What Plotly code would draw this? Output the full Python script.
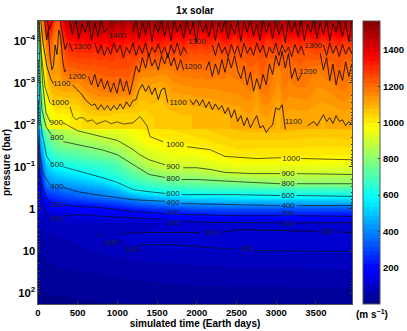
import numpy as np
import plotly.graph_objects as go

# all pressures below are log10(bar)

# heatmap, upper atmosphere (lots of time columns, it is noisy up there)
t_upper = [0, 20, 40, 70, 100, 130, 160, 190, 220, 250, 280, 310, 350, 400, 450,
           500, 570, 640, 710, 780, 850, 920, 990, 1060, 1130, 1200, 1270, 1340, 1410, 1480,
           1550, 1620, 1690, 1760, 1830, 1900, 1970, 2040, 2110, 2180, 2250, 2320, 2390, 2460, 2530,
           2600, 2670, 2740, 2810, 2880, 2950, 3020, 3090, 3160, 3230, 3300, 3370, 3440, 3510, 3580,
           3650, 3720, 3790, 3860, 3955]
p_upper = [-4.47, -4.2, -4.0, -3.7, -3.3, -2.8, -2.2]
z_m447 = [800, 1000, 1130, 1250, 1350, 1400, 1380, 1300, 1250, 1220, 1300, 1400, 1470, 1500, 1480,
          1520, 1480, 1540, 1490, 1530, 1500, 1550, 1490, 1530, 1480, 1520, 1500, 1540, 1490, 1520,
          1550, 1480, 1530, 1500, 1540, 1490, 1520, 1480, 1540, 1510, 1490, 1530, 1550, 1490, 1520,
          1480, 1530, 1510, 1550, 1490, 1520, 1540, 1480, 1530, 1500, 1550, 1490, 1520, 1540, 1480,
          1530, 1510, 1550, 1490, 1520]
z_m42 = [750, 960, 1090, 1200, 1280, 1320, 1300, 1230, 1190, 1180, 1240, 1320, 1380, 1410, 1400,
         1430, 1400, 1440, 1420, 1440, 1420, 1450, 1410, 1440, 1400, 1430, 1410, 1430, 1390, 1420,
         1430, 1390, 1410, 1390, 1420, 1380, 1400, 1370, 1410, 1390, 1370, 1400, 1420, 1370, 1390,
         1370, 1400, 1380, 1420, 1370, 1390, 1400, 1360, 1400, 1380, 1410, 1370, 1390, 1410, 1360,
         1400, 1380, 1410, 1370, 1390]
z_m40 = [700, 920, 1050, 1110, 1190, 1230, 1220, 1180, 1160, 1150, 1200, 1270, 1320, 1340, 1340,
         1360, 1340, 1370, 1350, 1370, 1350, 1380, 1340, 1360, 1330, 1350, 1340, 1350, 1320, 1340,
         1340, 1310, 1330, 1310, 1340, 1300, 1320, 1300, 1320, 1310, 1290, 1320, 1330, 1290, 1310,
         1290, 1320, 1300, 1330, 1290, 1310, 1320, 1290, 1310, 1300, 1320, 1290, 1310, 1320, 1290,
         1310, 1300, 1320, 1290, 1310]
z_m37 = [640, 850, 970, 1050, 1130, 1180, 1180, 1160, 1150, 1140, 1180, 1220, 1260, 1280, 1280,
         1290, 1280, 1300, 1280, 1300, 1280, 1300, 1270, 1290, 1270, 1280, 1270, 1270, 1250, 1260,
         1260, 1240, 1260, 1240, 1260, 1240, 1250, 1240, 1250, 1240, 1230, 1250, 1250, 1220, 1240,
         1230, 1250, 1240, 1260, 1230, 1240, 1250, 1230, 1240, 1230, 1250, 1230, 1240, 1250, 1230,
         1240, 1230, 1250, 1230, 1240]
z_m33 = [580, 780, 890, 990, 1060, 1110, 1130, 1130, 1130, 1125, 1150, 1180, 1200, 1210, 1210,
         1215, 1218, 1220, 1225, 1230, 1235, 1240, 1240, 1240, 1240, 1220, 1176, 1170, 1167, 1165,
         1160, 1160, 1170, 1180, 1189, 1190, 1195, 1190, 1195, 1192, 1185, 1190, 1175, 1180, 1190,
         1200, 1215, 1195, 1225, 1200, 1175, 1160, 1190, 1180, 1200, 1205, 1190, 1180, 1170, 1180,
         1195, 1205, 1215, 1195, 1180]
z_m28 = [530, 700, 800, 900, 1000, 1040, 1075, 1090, 1090, 1095, 1095, 1100, 1100, 1100, 1100,
         1100, 1130, 1148, 1160, 1170, 1175, 1176, 1175, 1170, 1170, 1140, 1090, 1095, 1103, 1090,
         1080, 1100, 1125, 1125, 1130, 1130, 1135, 1135, 1138, 1138, 1142, 1145, 1148, 1150, 1150,
         1160, 1168, 1130, 1175, 1180, 1160, 1125, 1170, 1155, 1160, 1160, 1165, 1150, 1140, 1140,
         1145, 1150, 1165, 1170, 1150]
z_m22 = [500, 620, 700, 830, 890, 930, 950, 975, 985, 985, 985, 985, 990, 1000, 1000,
         1005, 1030, 1040, 1045, 1045, 1045, 1040, 1030, 1030, 1030, 1035, 1040, 1030, 1045, 1050,
         1055, 1060, 1060, 1065, 1070, 1070, 1075, 1075, 1075, 1080, 1085, 1090, 1095, 1100, 1100,
         1110, 1115, 1100, 1115, 1120, 1105, 1090, 1115, 1105, 1105, 1110, 1110, 1105, 1100, 1095,
         1100, 1100, 1105, 1110, 1100]
z_upper = [z_m447, z_m42, z_m40, z_m37, z_m33, z_m28, z_m22]

# heatmap, lower atmosphere
t_lower = [0, 20, 50, 100, 200, 300, 500, 800, 1000, 1200, 1400, 1600, 2000, 2500, 3000, 3500, 3955]
p_lower = [-2.2, -1.9, -1.6, -1.3, -1.05, -0.85, -0.62, -0.45, -0.3, -0.1, 0.03, 0.17, 0.33, 0.5, 0.7, 1.0, 1.3, 1.7, 2.26]
z_lower = [
    [500, 620, 750, 890, 975, 985, 1005, 1045, 1030, 1035, 1045, 1060, 1072, 1100, 1105, 1100, 1100],
    [420, 520, 630, 780, 855, 870, 908, 950, 940, 975, 1015, 1020, 1042, 1075, 1085, 1065, 1075],
    [340, 430, 530, 690, 765, 800, 815, 855, 885, 925, 975, 990, 1010, 1040, 1040, 1035, 1040],
    [280, 360, 440, 610, 675, 700, 725, 765, 800, 865, 920, 940, 960, 1010, 1005, 1005, 1000],
    [220, 300, 360, 510, 595, 610, 640, 665, 700, 805, 870, 905, 910, 950, 950, 950, 945],
    [180, 250, 300, 470, 515, 535, 570, 630, 665, 730, 790, 830, 850, 900, 900, 890, 885],
    [150, 210, 240, 400, 430, 440, 475, 515, 590, 650, 690, 725, 745, 770, 800, 800, 800],
    [130, 180, 200, 310, 330, 365, 390, 430, 470, 590, 610, 630, 650, 650, 660, 660, 670],
    [115, 160, 170, 250, 280, 300, 340, 385, 410, 455, 500, 530, 565, 575, 590, 590, 600],
    [100, 135, 130, 140, 185, 205, 210, 235, 260, 300, 325, 355, 380, 400, 400, 400, 400],
    [90, 115, 105, 125, 150, 165, 175, 185, 190, 215, 230, 250, 290, 295, 295, 295, 295],
    [80, 100, 90, 105, 105, 110, 130, 140, 140, 150, 165, 180, 195, 200, 200, 200, 195],
    [70, 85, 80, 90, 90, 90, 95, 95, 95, 95, 96, 98, 99, 100, 100, 100, 100],
    [60, 70, 70, 78, 80, 82, 85, 90, 93, 96, 98, 98, 98, 97, 97, 97, 97],
    [50, 58, 60, 65, 68, 72, 78, 88, 100, 106, 108, 110, 110, 108, 106, 106, 106],
    [42, 48, 50, 55, 58, 62, 68, 75, 82, 88, 92, 94, 96, 98, 99, 100, 100],
    [35, 40, 42, 46, 49, 52, 56, 60, 64, 68, 70, 72, 75, 78, 80, 80, 80],
    [25, 30, 32, 34, 36, 38, 40, 42, 45, 48, 50, 52, 55, 56, 56, 57, 57],
    [10, 12, 14, 16, 18, 18, 20, 22, 22, 24, 24, 26, 28, 28, 30, 30, 30],
]

# contour lines: the noisy ones share one time grid, None leaves room for a label
t_jag = list(range(395, 3960, 40))
c1400 = [-4.5, -4.15, -4.5, -4.05, -4.4, -4.2, -4.5, -4.0, -4.45, -4.1, -4.5, -4.2, -4.3,
         None, None, None, None, None, None, None, -4.2,
         -4.5, -4.05, -4.45, -4.15, -4.5, -3.98, -4.4, -4.2, -4.5, -4.1,
         -4.45, -4.0, -4.5, -4.2, -4.4, -4.05, -4.5, -4.15, -4.45, -3.95,
         -4.5, -4.2, -4.4, -4.1, -4.5, -4.0, -4.45, -4.2, -4.5, -4.05,
         -4.4, -4.15, -4.5, -3.98, -4.45, -4.2, -4.5, -4.1, -4.4, -4.0,
         -4.5, -4.2, -4.45, -4.05, -4.5, -4.15, -4.4, -3.95, -4.5, -4.2,
         -4.45, -4.1, -4.5, -4.0, -4.4, -4.2, -4.5, -4.05, -4.45, -4.15,
         -4.5, -4.0, -4.4, -4.2, -4.5, -4.1, -4.45, -3.98, -4.5]
c1300 = [-3.95, -3.75, None, None, None, None, None, None,
         -3.95, -3.7, -3.9, -3.65, -3.85, -3.68, -3.95, -3.72, -3.9, -3.6,
         -3.85, -3.7, -3.95, -3.65, -3.88, -3.7, -3.95, -3.62, -3.85, -3.72,
         -3.92, -3.68, -3.85, -3.6, -3.9, -3.7, -3.95, -3.65, -3.85, -3.7,
         None, None, None, None, None, None, None,
         -3.9, -3.65, -3.95, -3.7, -3.85, -3.62, -3.92, -3.68, -3.88, -3.6,
         -3.95, -3.7, -3.85, -3.65, -3.95, -3.72, -3.9, -3.6, -3.85, -3.7,
         -3.95, -3.65, -3.9, -3.72, -3.85, -3.62, -3.92, -3.7, -3.88, -3.65,
         None, None, None, None, None,
         -3.9, -3.65, -3.95, -3.7, -3.88, -3.62, -3.92, -3.68, -3.85, -3.7]
c1200 = [None, None, None, None, None, None,
         -3.15, -2.95, -3.2, -2.9, -3.1, -2.85, -3.05, -2.78,
         -3.0, -2.75, -3.1, -2.8, -3.05, -2.72, -3.05, -3.4,
         -3.25, -3.6, -3.35, -3.7, -3.4, -3.55, -3.3, -3.65, -3.45, -3.7, -3.4, -3.6, -3.3, -3.55, -3.3,
         None, None, None, None, None, None,
         -3.3, -3.5, -3.15, -3.45, -3.2, -3.55, -3.25, -3.6, -3.35, -3.65,
         -3.3, -3.1, -3.4, -2.95, -3.25, -2.8, -3.1, -2.85, -3.2, -2.95,
         -3.45, -3.2, -3.65, -3.4, -3.75, -3.35, -3.7, -3.1, -3.35, -3.05, -3.2,
         None, None, None, None, None, -3.7,
         -3.3, -3.6, -3.05, -3.45, -2.95, -3.3, -3.05, -3.5, -3.15, -3.45]
c1100 = [None, -2.95, -2.88, -2.79, -2.72, -2.6, -2.53, -2.46, -2.5, -2.36,
         -2.48, -2.36, -2.46, -2.34, -2.46, -2.36, -2.5, -2.38, -2.55, -2.43,
         -2.58, -2.6, -2.84, -2.96, -2.79, -2.93, -2.72, -2.88, -2.6, -2.84,
         -2.88, -2.53, None, None, None, None, None, None, -2.6, -2.48,
         -2.6, -2.46, -2.6, -2.41, -2.55, -2.36, -2.5, -2.36, -2.46, -2.27,
         -2.41, -2.17, -2.36, -2.08, -2.22, -1.98, -2.17, -1.93, -2.08, -2.22,
         -1.93, -1.98, -1.82, -1.93, -2.0, -2.41, -2.36, -2.48, -1.89, None,
         None, None, None, None, None, -1.98, -2.03, -2.08, -1.98, -2.12,
         -2.24, -2.08, -2.17, -2.03, -2.22, -2.08, -2.12, -1.98, -2.08, -2.0]

# left ends of the noisy lines, before t_jag starts
t1300_left = [115, 140, 165, 190, None, 280, 310, 340, 370]
p1300_left = [-4.47, -4.26, -4.4, -4.47, None, -4.47, -4.14, -3.79, -3.95]
t1200_left = [85, 110, 130, 150, 175, 195, 215, 240, 262, 285, 310, 335, 355]
p1200_left = [-4.47, -4.02, -4.26, -3.67, -3.31, -3.41, -3.9, -3.67, -4.26, -4.1, -3.55, -3.26, -3.31]
t1100_left = [35, 63, 113, 165, 195]
p1100_left = [-4.47, -3.95, -3.38, -3.07, -2.98]

# the smoother lines
t1000 = [17, 28, 47, 88, 150, 165, None, 403, 441, 480, 520, 567, 620, 680, 740, 781, 850, 920, 1000, 1080, 1197, 1285, 1373, 1411, 1500, 1575, None, 1877, 2167, 2356, 2757, 3062, None, 3315, 3955]
p1000 = [-4.47, -4.02, -3.62, -2.91, -2.53, -2.5, None, -2.43, -2.2, -2.12, -2.17, -2.17, -2.08, -2.12, -2.02, -2.05, -2.1, -2.03, -2.07, -2.02, -2.05, -2.2, -1.98, -1.72, -1.66, -1.6, None, -1.48, -1.41, -1.25, -1.2, -1.22, None, -1.2, -1.17]
t900 = [10, 40, 60, 100, 150, None, 315, 500, 800, 1000, 1200, 1280, 1400, 1600, None, 1830, 2000, 2167, 2356, 2700, 3050, None, 3260, 3955]
p900 = [-4.47, -3.55, -2.96, -2.29, -2.08, None, -2.05, -1.86, -1.72, -1.63, -1.41, -1.29, -1.17, -1.05, None, -0.98, -0.98, -0.94, -0.87, -0.84, -0.84, None, -0.84, -0.82]
t800 = [5, 30, 50, 100, 165, None, 320, 500, 800, 1000, 1200, 1300, 1400, 1600, None, 1810, 2000, 2500, 3050, None, 3260, 3955]
p800 = [-4.47, -2.96, -2.36, -1.96, -1.77, None, -1.6, -1.53, -1.41, -1.29, -1.05, -0.94, -0.82, -0.75, None, -0.7, -0.7, -0.65, -0.6, None, -0.6, -0.6]
t600 = [5, 30, 50, 110, 165, None, 320, 500, 800, 1000, 1200, 1400, 1600, None, 1810, 2500, 3050, None, 3260, 3955]
p600 = [-3.55, -2.12, -1.82, -1.25, -1.1, None, -1.0, -0.91, -0.75, -0.63, -0.46, -0.41, -0.37, None, -0.34, -0.34, -0.32, None, -0.32, -0.3]
t400 = [3, 20, 50, 130, 165, None, 320, 500, 800, 1000, 1200, 1600, None, 1810, 2500, 3050, None, 3260, 3955]
p400 = [-2.6, -1.41, -0.89, -0.63, -0.56, None, -0.51, -0.41, -0.32, -0.27, -0.22, -0.18, None, -0.13, -0.1, -0.08, None, -0.08, -0.08]
t200 = [2, 25, 50, 130, 165, None, 320, 500, 800, 1000, 1200, 1600, None, 1810, 2500, 3050, None, 3260, 3955]
p200 = [-1.65, -0.82, -0.51, -0.18, -0.13, None, -0.1, -0.06, -0.03, 0.01, 0.06, 0.11, None, 0.13, 0.16, 0.16, None, 0.16, 0.18]
t100 = [2, 17, 46, 130, None, 319, 487, 781, 1201, 1579, None, 1810, 2167, 3070, None, 3238, 3955]
p100 = [-1.41, -0.66, -0.18, 0.21, None, 0.17, 0.13, 0.17, 0.21, 0.25, None, 0.29, 0.32, 0.33, None, 0.33, 0.33]
t100_upper = [716, 800, None, 1040, 1200, 2041, None, 2300, 2586, 3530, None, 3770, 3955]
p100_upper = [0.62, 0.62, None, 0.61, 0.56, 0.56, None, 0.56, 0.49, 0.54, None, 0.55, 0.56]
t100_lower = [1000, 1096, None, 1260, 1700, 2167, 2500, None, 2710, 3955]
p100_lower = [0.73, 0.8, None, 0.85, 0.85, 0.92, 0.96, None, 0.99, 1.01]

# contour labels
label_text = ['100', '200', '400', '600', '800', '900', '1000', '1100', '1200', '1300', '1400',
              '1300', '1200', '1100', '1000', '900', '800', '600', '400', '200', '100',
              '1300', '1200', '1100', '1000', '900', '800', '600', '400', '200', '100',
              '100', '100', '100', '100', '100']
label_t = [230, 230, 240, 240, 240, 230, 277, 300, 490, 555, 1000,
           2000, 1950, 1765, 1726, 1700, 1700, 1700, 1700, 1700, 1700,
           3465, 3400, 3215, 3190, 3150, 3150, 3150, 3150, 3150, 3150,
           920, 1184, 2180, 2620, 3640]
label_p = [0.25, -0.09, -0.52, -1.05, -1.69, -2.05, -2.53, -2.98, -3.15, -3.85, -4.12,
           -3.98, -3.38, -2.53, -1.51, -1.0, -0.72, -0.36, -0.15, 0.1, 0.33,
           -3.88, -3.26, -2.08, -1.2, -0.84, -0.6, -0.32, -0.08, 0.12, 0.35,
           0.8, 0.97, 0.56, 0.96, 0.54]

xticks = [0, 500, 1000, 1500, 2000, 2500, 3000, 3500]
cbar_ticks = [200, 400, 600, 800, 1000, 1200, 1400]

# jet, cut into 64 steps like the colour bar in the picture
jet_pos = [0, 0.11, 0.125, 0.375, 0.625, 0.875, 1]
jet_r = [0, 0, 0, 0, 1, 1, 0.5]
jet_g = [0, 0, 0, 1, 1, 0, 0]
jet_b = [0.5, 1, 1, 1, 0, 0, 0]
colorscale = []
for i in range(64):
    mid = (i + 0.5) / 64
    col = 'rgb(%d,%d,%d)' % (255 * np.interp(mid, jet_pos, jet_r), 255 * np.interp(mid, jet_pos, jet_g), 255 * np.interp(mid, jet_pos, jet_b))
    colorscale.append([i / 64, col])
    colorscale.append([(i + 1) / 64, col])


def bar(vals):
    # log10(bar) -> bar, keeps the gaps
    return [None if v is None else 10 ** v for v in vals]


fig = go.Figure()
fig.add_trace(go.Heatmap(x=t_lower, y=bar(p_lower), z=z_lower, coloraxis='coloraxis', zsmooth='best'))
fig.add_trace(go.Heatmap(x=t_upper, y=bar(p_upper), z=z_upper, coloraxis='coloraxis', zsmooth='best'))

# noisy lines read darker than the quiet ones
noisy = [(t_jag, c1400), (t_jag, c1300), (t_jag, c1200), (t_jag, c1100),
         (t1300_left, p1300_left), (t1200_left, p1200_left), (t1100_left, p1100_left)]
quiet = [(t1000, p1000), (t900, p900), (t800, p800), (t600, p600), (t400, p400), (t200, p200), (t100, p100),
         (t100_upper, p100_upper), (t100_lower, p100_lower)]
for t, p in noisy:
    fig.add_trace(go.Scatter(x=t, y=bar(p), mode='lines', connectgaps=False,
                             line=dict(color='rgba(20,10,0,0.85)', width=1), showlegend=False))
for t, p in quiet:
    fig.add_trace(go.Scatter(x=t, y=bar(p), mode='lines', connectgaps=False,
                             line=dict(color='rgba(15,15,15,0.85)', width=0.8), showlegend=False))

fig.add_trace(go.Scatter(x=label_t, y=bar(label_p), text=label_text, mode='text', showlegend=False,
                         textfont=dict(family='Liberation Sans', size=8, color='#222222', weight=400)))

tick_font = dict(family='Liberation Sans', size=9.5, color='black', weight=700)
ytick_font = dict(family='Liberation Sans', size=9, color='black', weight=700)
axis_font = dict(family='Liberation Sans', size=10, color='black', weight=700)
fig.update_layout(
    width=407, height=331,
    margin=dict(l=38, r=55, t=21, b=27, autoexpand=False),
    paper_bgcolor='white',
    showlegend=False,
    font=axis_font,
    title=dict(text='1x solar', x=195 / 407, xanchor='center', y=1 - 10 / 331, yanchor='middle', font=axis_font),
    coloraxis=dict(cmin=0, cmax=1560, colorscale=colorscale,
                   colorbar=dict(x=1.035, xanchor='left', xpad=0, y=0.5, yanchor='middle', ypad=0, len=1, thickness=17,
                                 outlinecolor='#555555', outlinewidth=1, tickvals=cbar_ticks, ticks='inside', ticklen=2,
                                 tickcolor='#333333', tickfont=tick_font)),
    annotations=[dict(text='(m s<sup>−1</sup>)', xref='paper', yref='paper', x=(372 - 38) / 314, y=-10 / 283,
                      xanchor='center', yanchor='middle', showarrow=False, font=axis_font)],
)
fig.update_xaxes(range=[0, 3955], tickvals=xticks, ticks='inside', ticklen=3, tickcolor='#333333',
                 showline=True, linecolor='#555555', mirror='ticks', showgrid=False, zeroline=False,
                 tickfont=tick_font,
                 title=dict(text='simulated time (Earth days)', standoff=1, font=axis_font))
fig.update_yaxes(type='log', range=[2.26, -4.47], dtick=1, exponentformat='power', ticks='inside', ticklen=3, tickcolor='#333333',
                 minor=dict(ticks='inside', ticklen=1.5, tickcolor='#333333', showgrid=False),
                 showline=True, linecolor='#555555', mirror='ticks', showgrid=False, zeroline=False,
                 tickfont=ytick_font,
                 title=dict(text='pressure (bar)', standoff=1, font=axis_font))

# the page's default body margin would push everything 8px in
fig.write_html("out.html", config=dict(displayModeBar=False), post_script="document.body.style.margin='0';")
